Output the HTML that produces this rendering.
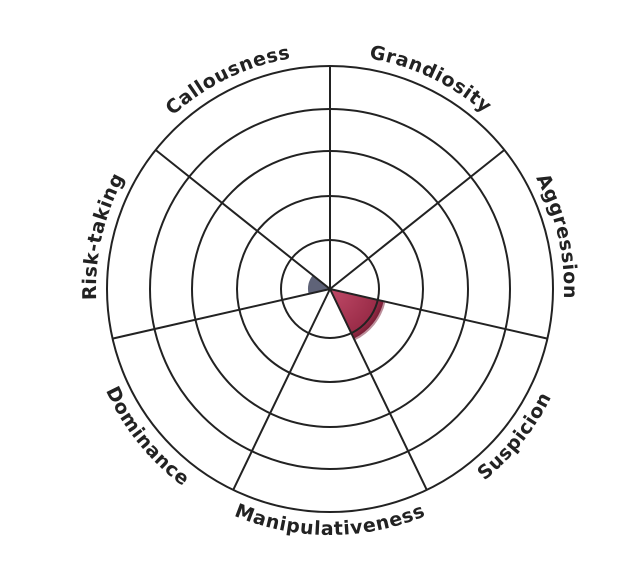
<!DOCTYPE html>
<html><head><meta charset="utf-8"><style>
html,body{margin:0;padding:0;background:#fff;}
svg{display:block;}
text{font-family:"DejaVu Sans","Liberation Sans",sans-serif;font-weight:bold;font-size:19px;fill:#222;letter-spacing:0.6px;}
</style></head><body>
<svg width="640" height="562" viewBox="0 0 640 562">
<defs>
<path id="cw" d="M330,55 A234,234 0 1 1 330,523 A234,234 0 1 1 330,55"/>
<path id="ccw" d="M330,43 A246,246 0 1 0 330,535 A246,246 0 1 0 330,43"/>
<radialGradient id="rg" cx="330" cy="289" r="57" gradientUnits="userSpaceOnUse">
<stop offset="0" stop-color="#c04a68"/><stop offset="0.85" stop-color="#9a2c48"/><stop offset="1" stop-color="#6e1a30"/>
</radialGradient>
</defs>
<path d="M330,289 L385.5,301.7 A57,57 0 0 1 354.7,340.4 Z" fill="#7a2038" opacity="0.5"/>
<path d="M330,289 L383.6,301.2 A55,55 0 0 1 353.9,338.6 Z" fill="url(#rg)"/>
<path d="M330,289 L308.6,293.9 A22,22 0 0 1 312.8,275.3 Z" fill="#5f6378"/>
<g fill="none" stroke="#222" stroke-width="2">
<circle cx="330" cy="289" r="223"/>
<circle cx="330" cy="289" r="180"/>
<circle cx="330" cy="289" r="138"/>
<circle cx="330" cy="289" r="93"/>
<circle cx="330" cy="289" r="49"/>
<path d="M330,289L330,66M330,289L504.3,150M330,289L547.4,338.6M330,289L426.8,489.9M330,289L233.2,489.9M330,289L112.6,338.6M330,289L155.7,150"/>
</g>
<text text-anchor="middle"><textPath href="#cw" startOffset="7.1%">Grandiosity</textPath></text>
<text text-anchor="middle"><textPath href="#cw" startOffset="21.4%">Aggression</textPath></text>
<text text-anchor="middle"><textPath href="#cw" startOffset="78.6%">Risk-taking</textPath></text>
<text text-anchor="middle"><textPath href="#cw" startOffset="92.8%">Callousness</textPath></text>
<text text-anchor="middle"><textPath href="#ccw" startOffset="35.8%">Dominance</textPath></text>
<text text-anchor="middle"><textPath href="#ccw" startOffset="50%">Manipulativeness</textPath></text>
<text text-anchor="middle"><textPath href="#ccw" startOffset="64.3%">Suspicion</textPath></text>
</svg>
</body></html>
